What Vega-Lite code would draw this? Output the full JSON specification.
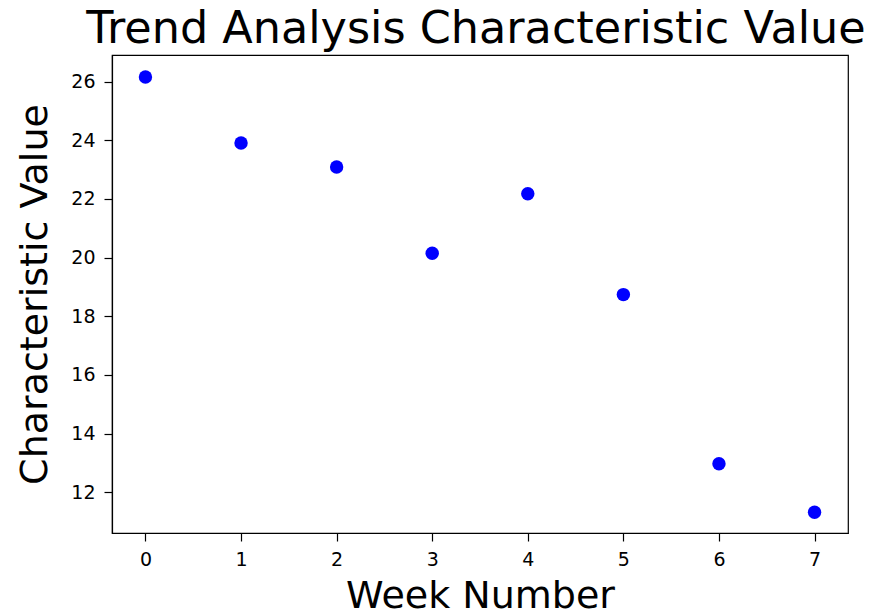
{
  "$schema": "https://vega.github.io/schema/vega-lite/v6.json",
  "autosize": "none",
  "width": 736,
  "height": 478,
  "padding": {"left": 112, "top": 55, "right": 38, "bottom": 82},
  "background": "white",
  "title": {"text": "Trend Analysis Characteristic Value", "font": "DejaVu Sans", "fontSize": 44.5, "fontWeight": "normal", "color": "#000000", "anchor": "middle", "offset": 2, "baseline": "bottom", "dy": 43, "dx": -4},
  "config": {
    "view": {"stroke": "#000000", "strokeWidth": 1.2},
    "axis": {"domainColor": "#000000", "tickColor": "#000000", "labelColor": "#000000", "titleColor": "#000000", "grid": false, "labelFont": "DejaVu Sans", "labelFontSize": 19, "titleFont": "DejaVu Sans", "titleFontSize": 38, "titleFontWeight": "normal", "tickSize": 8, "labelPadding": 9, "domainWidth": 1.2, "tickWidth": 1.2}
  },
  "data": {"values": [
    {"week": 0, "value": 26.16},
    {"week": 1, "value": 23.91},
    {"week": 2, "value": 23.09},
    {"week": 3, "value": 20.15},
    {"week": 4, "value": 22.18},
    {"week": 5, "value": 18.74},
    {"week": 6, "value": 12.97},
    {"week": 7, "value": 11.32}
  ]},
  "mark": {"type": "circle", "size": 180, "color": "#0000ff", "opacity": 1},
  "encoding": {
    "x": {"field": "week", "type": "quantitative", "title": "Week Number", "scale": {"domain": [-0.35, 7.35], "nice": false, "zero": false}, "axis": {"values": [0,1,2,3,4,5,6,7], "titlePadding": 8}},
    "y": {"field": "value", "type": "quantitative", "title": "Characteristic Value", "scale": {"domain": [10.61, 26.91], "nice": false, "zero": false}, "axis": {"values": [12,14,16,18,20,22,24,26], "titlePadding": 16}}
  }
}
